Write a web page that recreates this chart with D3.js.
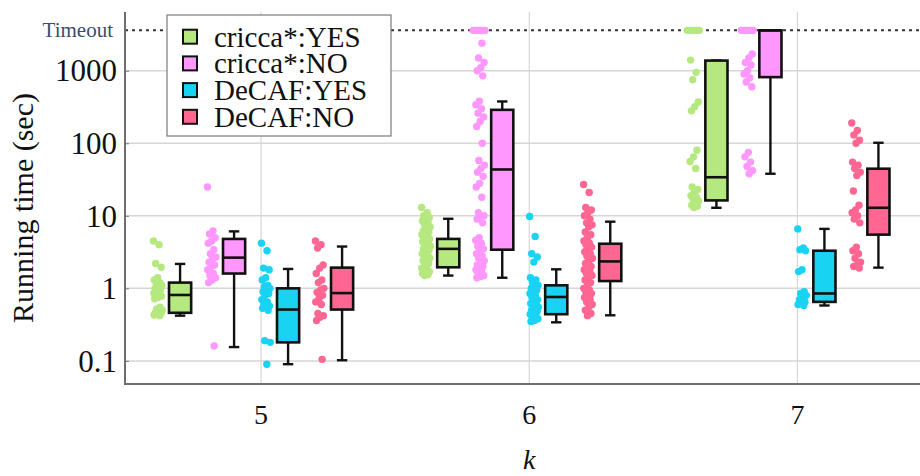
<!DOCTYPE html>
<html>
<head>
<meta charset="utf-8">
<script src="https://cdn.jsdelivr.net/npm/d3@7"></script>
<style>
  html, body { margin: 0; padding: 0; background: #fff; }
  svg { display: block; font-family: "Liberation Serif", "Times New Roman", serif; }
</style>
</head>
<body>
<svg id="chart" width="920" height="476"></svg>
<script>
// ---------- data ----------
const categories = [5, 6, 7];
const seriesNames = ["cricca*:YES", "cricca*:NO", "DeCAF:YES", "DeCAF:NO"];
const seriesColors = ["#B6E880", "#FF97FF", "#19D3F3", "#FF6692"];
const yTickValues = [0.1, 1, 10, 100, 1000];
const yTickLabels = ["0.1", "1", "10", "100", "1000"];
const timeoutValue = 3600;

// box stats per series, per k: [q1, median, q3, whiskerLow, whiskerHigh]
const crYesBox = [[0.46, 0.81, 1.2, 0.42, 2.17], [1.95, 3.5, 4.8, 1.5, 9.1], [16.3, 34, 1380, 12.9, 1380]];
const crNoBox  = [[1.6, 2.65, 4.8, 0.155, 6.1], [3.41, 43.5, 289, 1.4, 377], [816, 3600, 3600, 38, 3600]];
const dcYesBox = [[0.18, 0.51, 1.0, 0.09, 1.85], [0.44, 0.76, 1.1, 0.34, 1.83], [0.65, 0.85, 3.3, 0.58, 6.6]];
const dcNoBox  = [[0.51, 0.86, 1.93, 0.102, 3.77], [1.26, 2.35, 4.12, 0.425, 8.3], [5.5, 12.9, 44.6, 1.93, 101.6]];

// raw points per series, per k
const crYesPts = [
  [4.5, 4.0, 2.2, 1.95, 1.4, 1.3, 1.2, 1.15, 1.1, 1.05, 1.0, 0.95, 0.9, 0.86, 0.82, 0.8, 0.78, 0.75, 0.72, 0.55, 0.52, 0.5, 0.48, 0.46, 0.45, 0.44, 0.43, 0.42],
  [13, 11, 10, 9.5, 9, 8.5, 8, 7.5, 7, 6.5, 6.2, 6, 5.7, 5.5, 5.2, 5, 4.8, 4.6, 4.4, 4.2, 4, 3.8, 3.6, 3.5, 3.4, 3.2, 3.0, 2.9, 2.8, 2.6, 2.5, 2.4, 2.2, 2.0, 1.9, 1.8, 1.75, 1.7, 1.65, 1.6, 1.55, 1.5],
  [3600, 3600, 3600, 3600, 3600, 1400, 950, 750, 370, 320, 280, 80, 65, 56, 45, 25, 23, 21, 19, 18, 17, 16, 15, 14, 13.5, 13]
];
const crNoPts = [
  [25, 6.2, 5.6, 5.0, 4.5, 4.2, 3.4, 3.0, 2.7, 2.5, 2.3, 2.1, 2.0, 1.8, 1.6, 1.5, 1.4, 1.3, 1.2, 0.16],
  [3600, 3600, 3600, 3600, 3600, 3600, 2400, 1500, 1300, 1100, 1000, 850, 380, 340, 300, 260, 230, 200, 170, 100, 58, 50, 45, 40, 35, 28, 25, 18, 11, 10, 9.5, 9, 8, 5, 4.6, 4.2, 3.8, 3.5, 3.2, 3, 2.8, 2.6, 2.4, 2.2, 2.1, 2, 1.9, 1.8, 1.7, 1.6, 1.5, 1.45, 1.4],
  [3600, 3600, 3600, 3600, 3600, 3600, 3600, 3600, 1700, 1500, 1300, 1200, 1000, 900, 800, 700, 600, 75, 65, 55, 48, 42, 38]
];
const dcYesPts = [
  [4.2, 3.3, 1.9, 1.8, 1.4, 1.3, 1.1, 1.05, 1.0, 0.95, 0.9, 0.85, 0.8, 0.7, 0.65, 0.6, 0.57, 0.55, 0.53, 0.5, 0.19, 0.18, 0.09],
  [9.8, 5.2, 3.0, 2.7, 2.3, 1.4, 1.3, 1.2, 1.1, 1.05, 1.0, 0.95, 0.9, 0.85, 0.8, 0.75, 0.7, 0.65, 0.62, 0.6, 0.57, 0.55, 0.52, 0.5, 0.48, 0.46, 0.44, 0.42, 0.4, 0.38, 0.36, 0.35],
  [6.6, 3.6, 3.4, 3.3, 1.8, 1.7, 0.9, 0.85, 0.8, 0.75, 0.7, 0.65, 0.62, 0.6, 0.58]
];
const dcNoPts = [
  [4.5, 4.0, 3.6, 2.1, 1.9, 1.6, 1.3, 1.2, 1.0, 0.95, 0.88, 0.8, 0.73, 0.65, 0.6, 0.45, 0.42, 0.4, 0.36, 0.105],
  [27, 21, 13, 12, 11, 10, 9, 8, 7.5, 7, 6, 5.5, 5, 4.5, 4.2, 4, 3.7, 3.4, 3.2, 3, 2.8, 2.6, 2.4, 2.2, 2.0, 1.9, 1.8, 1.7, 1.6, 1.5, 1.4, 1.3, 1.2, 1.1, 1.0, 0.95, 0.9, 0.85, 0.8, 0.75, 0.7, 0.65, 0.6, 0.55, 0.5, 0.45, 0.42],
  [190, 150, 130, 110, 100, 55, 50, 45, 40, 36, 22, 14, 12, 11, 10, 9, 8, 3.7, 3.3, 3.0, 2.6, 2.3, 2.1, 2.0, 1.9]
];

const boxStats = [crYesBox, crNoBox, dcYesBox, dcNoBox];
const pointSets = [crYesPts, crNoPts, dcYesPts, dcNoPts];

// ---------- layout ----------
const svg = d3.select("#chart");
const mLeft = 125, mTop = 12, mBottom = 384, mRight = 920;

const x = d3.scaleBand().domain(categories).range([127, 931.5]).padding(0);
const xs = d3.scaleBand().domain(d3.range(seriesNames.length)).range([-108, 108]).padding(0);
const y = d3.scaleLog().domain([0.048, 6450]).range([mBottom, mTop]);

const boxW = xs.bandwidth() * 0.41;
const ptOffset = -xs.bandwidth() * 0.41;
const capW = boxW * 0.47;

// grid
const grid = svg.append("g");
grid.selectAll("line.h").data(yTickValues).join("line")
  .attr("x1", mLeft).attr("x2", mRight)
  .attr("y1", d => y(d)).attr("y2", d => y(d))
  .attr("stroke", "#d6d6d6").attr("stroke-width", 1.5);
grid.selectAll("line.v").data(categories).join("line")
  .attr("x1", d => x(d) + x.bandwidth() / 2).attr("x2", d => x(d) + x.bandwidth() / 2)
  .attr("y1", mTop).attr("y2", mBottom)
  .attr("stroke", "#d6d6d6").attr("stroke-width", 1.2);

// timeout line
svg.append("line")
  .attr("x1", mLeft).attr("x2", mRight)
  .attr("y1", y(timeoutValue)).attr("y2", y(timeoutValue))
  .attr("stroke", "#333").attr("stroke-width", 2).attr("stroke-dasharray", "3,4");
svg.append("text")
  .attr("x", 113).attr("y", y(timeoutValue)).attr("dy", "0.32em")
  .attr("text-anchor", "end").attr("fill", "#3b4c72")
  .style("font-size", "21px").text("Timeout");

// axes
const yAxis = d3.axisLeft(y).tickValues(yTickValues)
  .tickFormat((d, i) => yTickLabels[i]).tickSize(-4).tickSizeOuter(0).tickPadding(8);
const gy = svg.append("g").attr("transform", `translate(${mLeft},0)`).call(yAxis);
gy.select(".domain").remove();
gy.selectAll(".tick line").attr("stroke", "#777").attr("stroke-width", 1);
gy.selectAll(".tick text").attr("fill", "#111").attr("dy", "0.33em")
  .style("font-size", "31px").style("font-family", "Liberation Serif, serif");
svg.append("line").attr("x1", mLeft).attr("x2", mLeft).attr("y1", mTop).attr("y2", mBottom + 1)
  .attr("stroke", "#6e6e6e").attr("stroke-width", 2);

const xAxis = d3.axisBottom(x).tickSize(0).tickSizeOuter(0).tickPadding(0);
const gx = svg.append("g").attr("transform", `translate(0,${mBottom})`).call(xAxis);
gx.select(".domain").remove();
gx.selectAll(".tick text").attr("fill", "#111").attr("y", 30).attr("dy", "0.35em")
  .style("font-size", "28px").style("font-family", "Liberation Serif, serif");
svg.append("line").attr("x1", mLeft - 1).attr("x2", mRight).attr("y1", mBottom).attr("y2", mBottom)
  .attr("stroke", "#6e6e6e").attr("stroke-width", 2);

// axis titles
svg.append("text")
  .attr("transform", `translate(33,208) rotate(-90)`)
  .attr("text-anchor", "middle").attr("fill", "#111")
  .style("font-size", "30px").text("Running time (sec)");
svg.append("text")
  .attr("x", x(6) + x.bandwidth() / 2).attr("y", 469)
  .attr("text-anchor", "middle").attr("fill", "#111")
  .style("font-size", "28px").style("font-style", "italic").text("k");

// points (deterministic jitter)
const jitter = i => (((i * 0.6180339887) % 1) * 2 - 1);
pointSets.forEach((set, s) => {
  set.forEach((vals, ci) => {
    const cx = x(categories[ci]) + x.bandwidth() / 2 + xs(s) + xs.bandwidth() / 2 + ptOffset;
    svg.append("g").selectAll("circle").data(vals).join("circle")
      .attr("cx", (d, i) => cx + jitter(i) * (d >= timeoutValue ? 7 : 4.5))
      .attr("cy", d => y(d))
      .attr("r", 3.7)
      .attr("fill", seriesColors[s]);
  });
});

// boxes
boxStats.forEach((stats, s) => {
  stats.forEach((b, ci) => {
    const [q1, med, q3, lo, hi] = b;
    const cx = x(categories[ci]) + x.bandwidth() / 2 + xs(s) + xs.bandwidth() / 2;
    const g = svg.append("g").attr("stroke", "#111").attr("stroke-width", 2.4);
    g.append("line").attr("x1", cx).attr("x2", cx).attr("y1", y(hi)).attr("y2", y(q3));
    g.append("line").attr("x1", cx).attr("x2", cx).attr("y1", y(q1)).attr("y2", y(lo));
    g.append("line").attr("x1", cx - capW / 2).attr("x2", cx + capW / 2).attr("y1", y(hi)).attr("y2", y(hi));
    g.append("line").attr("x1", cx - capW / 2).attr("x2", cx + capW / 2).attr("y1", y(lo)).attr("y2", y(lo));
    g.append("rect").attr("x", cx - boxW / 2).attr("width", boxW)
      .attr("y", y(q3)).attr("height", Math.max(0, y(q1) - y(q3)))
      .attr("fill", seriesColors[s]).attr("stroke-width", 2.6);
    g.append("line").attr("x1", cx - boxW / 2).attr("x2", cx + boxW / 2)
      .attr("y1", y(med)).attr("y2", y(med)).attr("stroke-width", 2.6);
  });
});

// legend
const lg = svg.append("g");
lg.append("rect").attr("x", 167).attr("y", 15).attr("width", 224).attr("height", 121)
  .attr("fill", "#fff").attr("stroke", "#7a7a7a").attr("stroke-width", 1.2);
const rows = lg.selectAll("g.item").data(seriesNames).join("g")
  .attr("transform", (d, i) => `translate(0,${36.7 + i * 26.7})`);
rows.append("rect").attr("x", 183).attr("y", -7).attr("width", 14).attr("height", 14)
  .attr("fill", (d, i) => seriesColors[i]).attr("stroke", "#111").attr("stroke-width", 2);
rows.append("text").attr("x", 214).attr("dy", "0.34em").attr("fill", "#111")
  .style("font-size", "29px").text(d => d);
</script>
</body>
</html>
